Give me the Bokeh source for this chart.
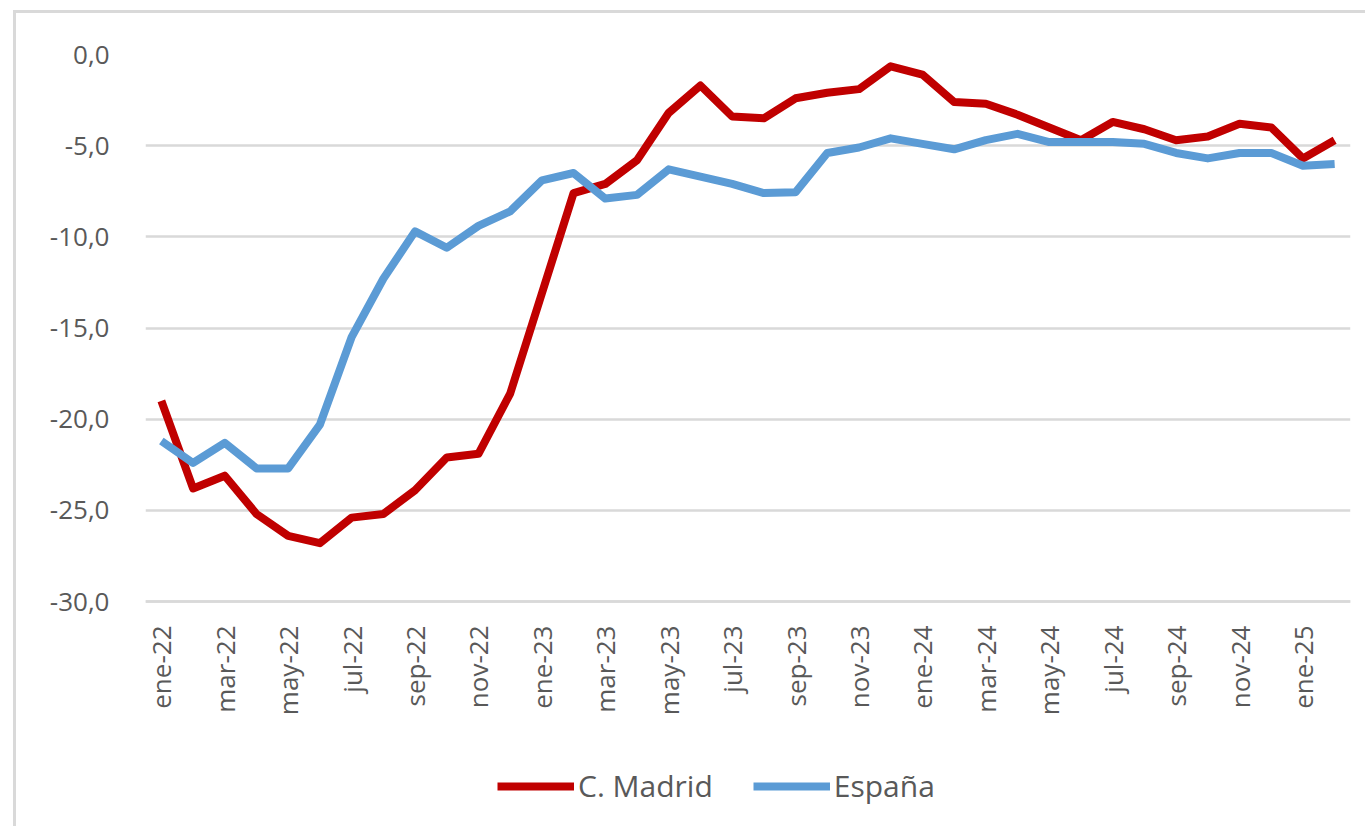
from bokeh.plotting import figure
from bokeh.models import Range1d, FixedTicker, Legend, LegendItem, LinearAxis
from bokeh.embed import file_html
from bokeh.resources import INLINE

months = ["ene-22", "feb-22", "mar-22", "abr-22", "may-22", "jun-22", "jul-22", "ago-22",
          "sep-22", "oct-22", "nov-22", "dic-22", "ene-23", "feb-23", "mar-23", "abr-23",
          "may-23", "jun-23", "jul-23", "ago-23", "sep-23", "oct-23", "nov-23", "dic-23",
          "ene-24", "feb-24", "mar-24", "abr-24", "may-24", "jun-24", "jul-24", "ago-24",
          "sep-24", "oct-24", "nov-24", "dic-24", "ene-25", "feb-25"]

madrid = [-19.0, -23.8, -23.1, -25.2, -26.4, -26.8, -25.4, -25.2, -23.9, -22.1,
          -21.9, -18.6, -13.1, -7.6, -7.1, -5.8, -3.2, -1.7, -3.4, -3.5,
          -2.4, -2.1, -1.9, -0.65, -1.1, -2.6, -2.7, -3.3, -4.0, -4.7,
          -3.7, -4.1, -4.7, -4.5, -3.8, -4.0, -5.7, -4.7]

espana = [-21.2, -22.4, -21.3, -22.7, -22.7, -20.3, -15.5, -12.3, -9.7, -10.6,
          -9.4, -8.6, -6.9, -6.5, -7.9, -7.7, -6.3, -6.7, -7.1, -7.6,
          -7.55, -5.4, -5.1, -4.6, -4.9, -5.2, -4.7, -4.35, -4.8, -4.8,
          -4.8, -4.9, -5.4, -5.7, -5.4, -5.4, -6.1, -6.0]

y_ticks = [0, -5, -10, -15, -20, -25, -30]

xs = list(range(len(months)))
font = "Open Sans"
grey_txt = "#595959"
grid = "#d9d9d9"

# plot area 547 px tall for 30 units; frame extended below for labels and legend
y_min = min(y_ticks)
px_per_unit = 547 / 30
extra_px = 225
p = figure(frame_width=1205, frame_height=547 + extra_px, output_backend="svg",
           toolbar_location=None, x_axis_location=None,
           x_range=Range1d(-0.5, len(months) - 0.5),
           y_range=Range1d(y_min - extra_px / px_per_unit, 0),
           min_border_left=129, min_border_right=15, min_border_top=41,
           min_border_bottom=0)
p.outline_line_color = None
p.background_fill_color = "white"
p.border_fill_color = "white"
p.styles = {"border-left": "3px solid #d9d9d9", "border-top": "3px solid #d9d9d9",
            "margin-left": "13px", "margin-top": "10px"}

p.xgrid.grid_line_color = None
p.ygrid.grid_line_color = grid
p.ygrid.grid_line_width = 2.5
p.ygrid.ticker = FixedTicker(ticks=y_ticks)

p.yaxis.ticker = FixedTicker(ticks=y_ticks)
p.yaxis.major_label_overrides = {t: f"{t:.1f}".replace(".", ",") for t in y_ticks}
p.yaxis.axis_line_color = None
p.yaxis.major_tick_line_color = None
p.yaxis.minor_tick_line_color = None
p.yaxis.major_label_text_font = font
p.yaxis.major_label_text_font_size = "26px"
p.yaxis.major_label_text_color = grey_txt
p.yaxis.major_label_standoff = 30

even = xs[::2]
xaxis = LinearAxis(fixed_location=y_min, ticker=FixedTicker(ticks=even))
xaxis.major_label_overrides = {i: months[i] for i in even}
xaxis.major_label_orientation = 1.5707963
xaxis.axis_line_color = grid
xaxis.axis_line_width = 2.5
xaxis.major_tick_line_color = None
xaxis.minor_tick_line_color = None
xaxis.major_label_text_font = font
xaxis.major_label_text_font_size = "26px"
xaxis.major_label_text_color = grey_txt
xaxis.major_label_standoff = 18
p.add_layout(xaxis, "below")

r1 = p.line(xs, madrid, line_color="#c00000", line_width=8, line_join="round")
r2 = p.line(xs, espana, line_color="#5b9bd5", line_width=8, line_join="round")

legend = Legend(items=[LegendItem(label="C. Madrid", renderers=[r1]),
                       LegendItem(label="España", renderers=[r2])],
                orientation="horizontal", location=(352, 20))
legend.border_line_color = None
legend.background_fill_alpha = 0
legend.padding = 0
legend.margin = 0
legend.spacing = 40
legend.glyph_width = 77
legend.label_standoff = 4
legend.label_text_font = font
legend.label_text_font_size = "30px"
legend.label_text_color = grey_txt
p.add_layout(legend, "center")

open("out.html", "w").write(file_html(p, INLINE))
